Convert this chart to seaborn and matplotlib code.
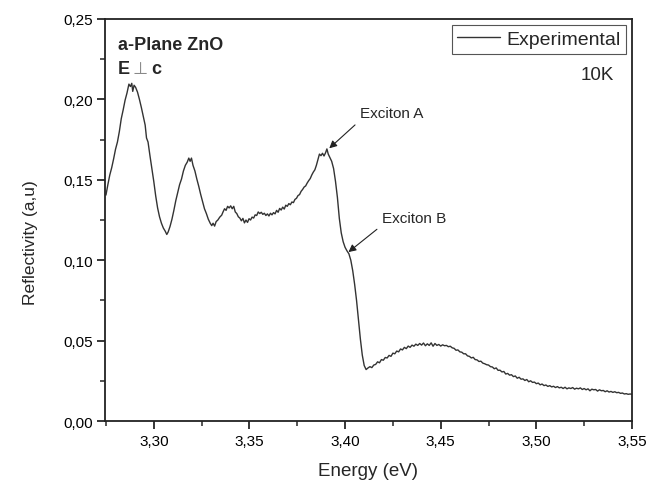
import matplotlib
matplotlib.use("Agg")
import matplotlib.pyplot as plt
import matplotlib.ticker as mticker
import seaborn as sns
import pandas as pd

# ---- data ----
energy = [
    3.2750, 3.2760, 3.2770, 3.2780, 3.2790, 3.2800, 3.2810, 3.2820, 3.2830, 3.2840,
    3.2850, 3.2860, 3.2870, 3.2878, 3.2885, 3.2890, 3.2897, 3.2905, 3.2915, 3.2925,
    3.2935, 3.2945, 3.2955, 3.2962, 3.2970, 3.2980, 3.2990, 3.3000, 3.3010, 3.3020,
    3.3030, 3.3040, 3.3050, 3.3060, 3.3068, 3.3075, 3.3085, 3.3095, 3.3105, 3.3115,
    3.3125, 3.3135, 3.3145, 3.3155, 3.3165, 3.3175, 3.3183, 3.3190, 3.3197, 3.3205,
    3.3215, 3.3225, 3.3235, 3.3245, 3.3255, 3.3265, 3.3275, 3.3285, 3.3295, 3.3303,
    3.3310, 3.3318, 3.3326, 3.3335, 3.3345, 3.3355, 3.3362, 3.3370, 3.3378, 3.3386,
    3.3394, 3.3402, 3.3410, 3.3418, 3.3426, 3.3434, 3.3442, 3.3450, 3.3458, 3.3466,
    3.3474, 3.3482, 3.3490, 3.3498, 3.3506, 3.3514, 3.3522, 3.3530, 3.3538, 3.3546,
    3.3554, 3.3562, 3.3570, 3.3578, 3.3586, 3.3594, 3.3602, 3.3610, 3.3618, 3.3626,
    3.3634, 3.3642, 3.3650, 3.3658, 3.3666, 3.3674, 3.3682, 3.3690, 3.3698, 3.3706,
    3.3714, 3.3722, 3.3730, 3.3738, 3.3746, 3.3754, 3.3762, 3.3770, 3.3778, 3.3786,
    3.3794, 3.3802, 3.3810, 3.3818, 3.3826, 3.3834, 3.3842, 3.3850, 3.3858, 3.3866,
    3.3874, 3.3882, 3.3890, 3.3898, 3.3905, 3.3912, 3.3920, 3.3930, 3.3940, 3.3950,
    3.3960, 3.3970, 3.3980, 3.3990, 3.4000, 3.4010, 3.4020, 3.4030, 3.4040, 3.4050,
    3.4060, 3.4070, 3.4080, 3.4090, 3.4100, 3.4110, 3.4120, 3.4130, 3.4140, 3.4150,
    3.4160, 3.4170, 3.4180, 3.4190, 3.4200, 3.4210, 3.4220, 3.4230, 3.4240, 3.4250,
    3.4260, 3.4270, 3.4280, 3.4290, 3.4300, 3.4310, 3.4320, 3.4330, 3.4340, 3.4350,
    3.4360, 3.4370, 3.4380, 3.4390, 3.4400, 3.4410, 3.4420, 3.4430, 3.4440, 3.4450,
    3.4460, 3.4470, 3.4480, 3.4490, 3.4500, 3.4510, 3.4520, 3.4530, 3.4540, 3.4550,
    3.4560, 3.4570, 3.4580, 3.4590, 3.4600, 3.4610, 3.4620, 3.4630, 3.4640, 3.4650,
    3.4660, 3.4670, 3.4680, 3.4690, 3.4700, 3.4710, 3.4720, 3.4730, 3.4740, 3.4750,
    3.4760, 3.4770, 3.4780, 3.4790, 3.4800, 3.4810, 3.4820, 3.4830, 3.4840, 3.4850,
    3.4860, 3.4870, 3.4880, 3.4890, 3.4900, 3.4910, 3.4920, 3.4930, 3.4940, 3.4950,
    3.4960, 3.4970, 3.4980, 3.4990, 3.5000, 3.5010, 3.5020, 3.5030, 3.5040, 3.5050,
    3.5060, 3.5070, 3.5080, 3.5090, 3.5100, 3.5110, 3.5120, 3.5130, 3.5140, 3.5150,
    3.5160, 3.5170, 3.5180, 3.5190, 3.5200, 3.5210, 3.5220, 3.5230, 3.5240, 3.5250,
    3.5260, 3.5270, 3.5280, 3.5290, 3.5300, 3.5310, 3.5320, 3.5330, 3.5340, 3.5350,
    3.5360, 3.5370, 3.5380, 3.5390, 3.5400, 3.5410, 3.5420, 3.5430, 3.5440, 3.5450,
    3.5460, 3.5470, 3.5480, 3.5490, 3.5500,
]
reflectivity = [
    0.1405, 0.1470, 0.1530, 0.1575, 0.1630, 0.1690, 0.1735, 0.1800, 0.1880, 0.1935,
    0.1995, 0.2040, 0.2095, 0.2080, 0.2100, 0.2050, 0.2088, 0.2075, 0.2045, 0.2000,
    0.1950, 0.1895, 0.1840, 0.1760, 0.1735, 0.1650, 0.1570, 0.1490, 0.1400, 0.1325,
    0.1270, 0.1230, 0.1200, 0.1180, 0.1160, 0.1175, 0.1210, 0.1255, 0.1310, 0.1370,
    0.1420, 0.1470, 0.1505, 0.1555, 0.1590, 0.1610, 0.1635, 0.1615, 0.1635, 0.1590,
    0.1555, 0.1505, 0.1460, 0.1410, 0.1365, 0.1320, 0.1290, 0.1255, 0.1230, 0.1215,
    0.1230, 0.1212, 0.1240, 0.1250, 0.1268, 0.1280, 0.1300, 0.1320, 0.1310, 0.1335,
    0.1325, 0.1338, 0.1320, 0.1335, 0.1300, 0.1290, 0.1270, 0.1262, 0.1245, 0.1260,
    0.1232, 0.1250, 0.1235, 0.1258, 0.1250, 0.1268, 0.1262, 0.1282, 0.1278, 0.1300,
    0.1290, 0.1298, 0.1285, 0.1292, 0.1278, 0.1288, 0.1275, 0.1292, 0.1282, 0.1296,
    0.1288, 0.1310, 0.1298, 0.1322, 0.1312, 0.1330, 0.1318, 0.1342, 0.1335, 0.1352,
    0.1345, 0.1362, 0.1358, 0.1378, 0.1385, 0.1402, 0.1408, 0.1428, 0.1440, 0.1455,
    0.1462, 0.1480, 0.1495, 0.1508, 0.1530, 0.1548, 0.1562, 0.1590, 0.1625, 0.1660,
    0.1650, 0.1665, 0.1648, 0.1668, 0.1692, 0.1660, 0.1640, 0.1615, 0.1570, 0.1490,
    0.1390, 0.1260, 0.1170, 0.1115, 0.1080, 0.1058, 0.1040, 0.1000, 0.0935, 0.0850,
    0.0750, 0.0630, 0.0510, 0.0410, 0.0345, 0.0320, 0.0330, 0.0338, 0.0332, 0.0348,
    0.0352, 0.0368, 0.0362, 0.0382, 0.0378, 0.0395, 0.0392, 0.0408, 0.0402, 0.0422,
    0.0418, 0.0435, 0.0430, 0.0448, 0.0442, 0.0458, 0.0450, 0.0466, 0.0458, 0.0472,
    0.0465, 0.0478, 0.0470, 0.0482, 0.0472, 0.0485, 0.0468, 0.0480, 0.0470, 0.0486,
    0.0465, 0.0482, 0.0470, 0.0476, 0.0466, 0.0474, 0.0468, 0.0470, 0.0462, 0.0465,
    0.0455, 0.0452, 0.0440, 0.0442, 0.0430, 0.0428, 0.0418, 0.0418, 0.0405, 0.0402,
    0.0392, 0.0396, 0.0382, 0.0380, 0.0370, 0.0372, 0.0360, 0.0356, 0.0350, 0.0348,
    0.0338, 0.0336, 0.0325, 0.0330, 0.0315, 0.0316, 0.0305, 0.0308, 0.0292, 0.0296,
    0.0285, 0.0288, 0.0276, 0.0280, 0.0266, 0.0272, 0.0260, 0.0262, 0.0252, 0.0258,
    0.0244, 0.0250, 0.0240, 0.0242, 0.0232, 0.0236, 0.0225, 0.0230, 0.0220, 0.0224,
    0.0215, 0.0220, 0.0212, 0.0216, 0.0208, 0.0214, 0.0206, 0.0210, 0.0202, 0.0210,
    0.0200, 0.0206, 0.0202, 0.0208, 0.0198, 0.0204, 0.0200, 0.0206, 0.0196, 0.0202,
    0.0194, 0.0200, 0.0188, 0.0198, 0.0194, 0.0196, 0.0186, 0.0194, 0.0188, 0.0190,
    0.0182, 0.0188, 0.0180, 0.0184, 0.0178, 0.0182, 0.0176, 0.0178, 0.0172, 0.0174,
    0.0168, 0.0170, 0.0166, 0.0168, 0.0166,
]
series_label = "Experimental"
x_limits = [3.2745, 3.55]
y_limits = [0.0, 0.25]
x_major = [3.30, 3.35, 3.40, 3.45, 3.50, 3.55]
y_major = [0.00, 0.05, 0.10, 0.15, 0.20, 0.25]
exciton_labels = ["Exciton A", "Exciton B"]
exciton_points = [(3.3912, 0.1690), (3.4012, 0.1045)]
exciton_text = [(3.4080, 0.1890), (3.4195, 0.1238)]

df = pd.DataFrame({"Energy": energy, "Reflectivity": reflectivity})

sns.set_style("ticks")
plt.rcParams["font.family"] = ["Liberation Sans", "DejaVu Sans"]
plt.rcParams["xtick.direction"] = "out"
plt.rcParams["ytick.direction"] = "out"

fig = plt.figure(figsize=(6.58, 4.81), dpi=100)
ax = fig.add_axes([105 / 658, 1 - 422 / 481, (632 - 105) / 658, (422 - 20) / 481])

sns.lineplot(data=df, x="Energy", y="Reflectivity", ax=ax, estimator=None,
             sort=False, color="#333333", linewidth=1.0, label=series_label)

ax.set_xlim(*x_limits)
ax.set_ylim(*y_limits)
ax.set_xticks(x_major)
ax.set_yticks(y_major)
ax.xaxis.set_minor_locator(mticker.MultipleLocator(0.025))
ax.yaxis.set_minor_locator(mticker.MultipleLocator(0.025))
comma = mticker.FuncFormatter(lambda v, p: f"{v:.2f}".replace(".", ","))
ax.xaxis.set_major_formatter(comma)
ax.yaxis.set_major_formatter(comma)
ax.tick_params(axis="both", which="major", length=6, width=1.1, labelsize=11,
               colors="black", pad=3)
ax.tick_params(axis="both", which="minor", length=3.5, width=1.1)
ax.tick_params(top=False, right=False, which="both")
for s in ax.spines.values():
    s.set_visible(True)
    s.set_linewidth(1.3)
    s.set_color("#222222")

ax.set_xlabel("Energy (eV)", fontsize=13.5, labelpad=10.5)
ax.set_ylabel("Reflectivity (a,u)", fontsize=12.5)
ax.yaxis.set_label_coords(-0.128, 0.445)

leg = ax.legend(loc="upper right", fontsize=14, frameon=True, fancybox=False,
                edgecolor="#555555", framealpha=1, borderaxespad=0.3,
                handlelength=2.2, handletextpad=0.3, borderpad=0.3)
leg.get_frame().set_linewidth(0.8)

ax.text(0.025, 0.925, "a-Plane ZnO", transform=ax.transAxes, fontsize=13,
        fontweight="bold", ha="left", va="baseline")
ax.text(0.025, 0.866, "E", transform=ax.transAxes, fontsize=13,
        fontweight="bold", ha="left", va="baseline")
ax.text(0.053, 0.866, "\u22a5", transform=ax.transAxes, fontsize=12.5,
        color="#888888", ha="left", va="baseline",
        family=["DejaVu Sans"])
ax.text(0.088, 0.866, "c", transform=ax.transAxes, fontsize=13,
        fontweight="bold", ha="left", va="baseline")
ax.text(0.965, 0.850, "10K", transform=ax.transAxes, fontsize=13.5,
        ha="right", va="baseline")

for lab, pt, tp in zip(exciton_labels, exciton_points, exciton_text):
    ax.annotate(lab, xy=pt, xytext=tp, fontsize=11, ha="left", va="baseline",
                arrowprops=dict(arrowstyle="-|>", color="#222222", lw=0.8,
                                mutation_scale=11, shrinkA=2, shrinkB=1,
                                relpos=(0, 0)))

fig.savefig("out.png", dpi=100)
